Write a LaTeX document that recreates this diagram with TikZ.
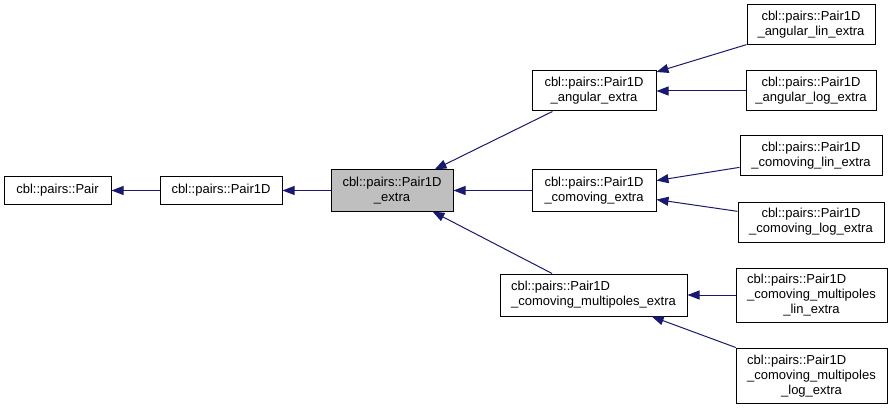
\documentclass[tikz,border=0pt]{standalone}
\usepackage{fontspec}
\setmainfont{Liberation Sans}
\usetikzlibrary{arrows.meta}

\begin{document}
\begin{tikzpicture}[
        x=1pt, y=-1pt,
        cls/.style={draw=black, fill=white, rectangle, line width=1pt, inner sep=1pt, align=center},
        current/.style={cls, fill=black!25},
        arrow/.style={-{Triangle[length=12pt, width=9pt]}, draw=Navy, line width=1pt},
        font=\fontsize{13}{15}\selectfont
    ]
    \definecolor{Navy}{HTML}{191970}
    \useasboundingbox (0,0) rectangle (892,409);

    % Nodes
    \node[cls, minimum width=107pt, minimum height=28pt] (pair) at (57.5, 190.5) {cbl::pairs::Pair};
    \node[cls, minimum width=122pt, minimum height=28pt] (paironed) at (221, 190.5) {cbl::pairs::Pair1D};
    \node[current, minimum width=122pt, minimum height=41pt] (extra) at (392, 190.5) {cbl::pairs::Pair1D \\ \_extra};
    \node[cls, minimum width=124pt, minimum height=40pt] (angular) at (594, 91) {cbl::pairs::Pair1D \\ \_angular\_extra};
    \node[cls, minimum width=128pt, minimum height=40pt] (anglin) at (811, 25) {cbl::pairs::Pair1D \\ \_angular\_lin\_extra};
    \node[cls, minimum width=130pt, minimum height=40pt] (anglog) at (811, 91) {cbl::pairs::Pair1D \\ \_angular\_log\_extra};
    \node[cls, minimum width=124pt, minimum height=41pt] (comoving) at (594, 190.5) {cbl::pairs::Pair1D \\ \_comoving\_extra};
    \node[cls, minimum width=142pt, minimum height=40pt] (comlin) at (811, 156) {cbl::pairs::Pair1D \\ \_comoving\_lin\_extra};
    \node[cls, minimum width=146pt, minimum height=40pt] (comlog) at (811, 222) {cbl::pairs::Pair1D \\ \_comoving\_log\_extra};
    \node[cls, align=left, minimum width=187pt, minimum height=42pt] (multi) at (593.5, 295) {cbl::pairs::Pair1D \\ \_comoving\_multipoles\_extra};
    \node[cls, minimum width=151pt, minimum height=54pt] (multilin) at (811.5, 295) {\begin{tabular}{@{}l@{}}cbl::pairs::Pair1D\\\_comoving\_multipoles\end{tabular} \\ \_lin\_extra};
    \node[cls, minimum width=151pt, minimum height=55pt] (multilog) at (811.5, 375.5) {\begin{tabular}{@{}l@{}}cbl::pairs::Pair1D\\\_comoving\_multipoles\end{tabular} \\ \_log\_extra};

    % Inheritance arrows (child to base)
    \draw[arrow] (paironed) -- (pair);
    \draw[arrow] (extra) -- (paironed);
    \draw[arrow] (angular) -- (extra);
    \draw[arrow] (comoving) -- (extra);
    \draw[arrow] (multi) -- (extra);
    \draw[arrow] (anglin) -- (angular);
    \draw[arrow] (anglog) -- (angular);
    \draw[arrow] (comlin) -- (comoving);
    \draw[arrow] (comlog) -- (comoving);
    \draw[arrow] (multilin) -- (multi);
    \draw[arrow] (multilog) -- (multi);
\end{tikzpicture}
\end{document}
